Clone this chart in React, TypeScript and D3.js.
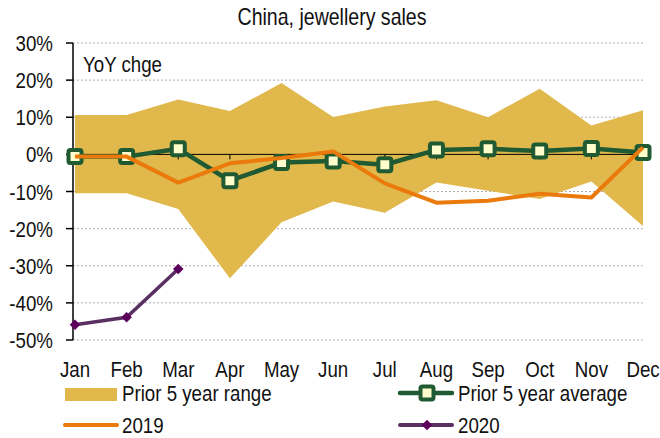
import * as d3 from 'd3';

const months = ['Jan', 'Feb', 'Mar', 'Apr', 'May', 'Jun', 'Jul', 'Aug', 'Sep', 'Oct', 'Nov', 'Dec'];
const rangeHigh = [10.6, 10.6, 14.8, 11.7, 19.2, 10.1, 12.9, 14.6, 10.0, 17.7, 7.8, 11.9];
const rangeLow = [-10.5, -10.5, -14.7, -33.4, -18.3, -12.7, -15.7, -7.6, -9.8, -12.0, -7.3, -19.3];
const avg5y = [-0.6, -0.6, 1.5, -7.1, -2.2, -1.8, -2.8, 1.2, 1.5, 0.9, 1.6, 0.5];
const y2019 = [-0.6, -0.6, -7.6, -2.4, -1.0, 0.8, -7.8, -13.0, -12.5, -10.6, -11.6, 1.9];
const y2020 = [-45.9, -43.9, -30.9];
const yTicks = [30, 20, 10, 0, -10, -20, -30, -40, -50];

const W = 660;
const H = 438;
const FONT = '"Liberation Sans", Arial, sans-serif';
const NARROW = 0.85;
const GOLD = '#E0B84C';
const GREEN = '#1F5A33';
const ORANGE = '#EA7A0B';
const PURPLE = '#5A2F62';
const DIAMOND = '#5C005C';

// narrow text: Arial Narrow is not installed, so squeeze Liberation Sans
function T({ x, y, size = 22, anchor = 'start', children }: { x: number; y: number; size?: number; anchor?: string; children: any }) {
  return (
    <text transform={`translate(${x},${y}) scale(${NARROW},1)`} textAnchor={anchor} fontSize={size} fill="#111">
      {children}
    </text>
  );
}

export default function App() {
  const x = d3.scalePoint<string>().domain(months).range([75, 643]);
  const y = d3.scaleLinear().domain([-50, 30]).range([340, 43]);

  const band = d3.area<number>()
    .x((_, i) => x(months[i])!)
    .y0((_, i) => y(rangeLow[i]))
    .y1(d => y(d));
  const line = d3.line<number>()
    .x((_, i) => x(months[i])!)
    .y(d => y(d));
  const diamond = d3.symbol(d3.symbolDiamond2, 70)() ?? '';

  return (
    <svg width={W} height={H} style={{ position: 'absolute', left: 0, top: 0 }} fontFamily={FONT}>
      <rect width={W} height={H} fill="#fff" />
      <T x={332} y={25} size={23} anchor="middle">China, jewellery sales</T>

      {/* gridlines */}
      {yTicks.filter(t => t !== 0).map(t => (
        <line key={t} x1={73} x2={643} y1={y(t)} y2={y(t)} stroke="#b0b0b0" strokeWidth={1} strokeDasharray="2,2" />
      ))}

      <path d={band(rangeHigh) ?? ''} fill={GOLD} />

      {/* zero line with category ticks */}
      <line x1={73} x2={643} y1={y(0)} y2={y(0)} stroke="#000" strokeWidth={1} />
      {months.map(m => (
        <line key={m} x1={x(m)!} x2={x(m)!} y1={y(0)} y2={y(0) + 5} stroke="#000" />
      ))}

      {/* y axis */}
      <line x1={73} x2={73} y1={y(30)} y2={y(-50)} stroke="#000" strokeWidth={1.5} />
      {yTicks.map(t => (
        <g key={t}>
          <line x1={66} x2={73} y1={y(t)} y2={y(t)} stroke="#000" strokeWidth={1.5} />
          <T x={53} y={y(t) + 8} anchor="end">{t}%</T>
        </g>
      ))}
      <T x={83} y={72}>YoY chge</T>

      {/* prior 5 year average */}
      <path d={line(avg5y) ?? ''} fill="none" stroke={GREEN} strokeWidth={4.5} strokeLinejoin="round" />
      {avg5y.map((v, i) => (
        <rect key={i} x={x(months[i])! - 6.5} y={y(v) - 6.5} width={13} height={13} rx={2}
          fill="#FFFDCC" stroke={GREEN} strokeWidth={4} />
      ))}

      {/* 2019, drawn over the average */}
      <path d={line(y2019) ?? ''} fill="none" stroke={ORANGE} strokeWidth={4} strokeLinejoin="round" />

      {/* 2020 */}
      <path d={line(y2020) ?? ''} fill="none" stroke={PURPLE} strokeWidth={3.5} />
      {y2020.map((v, i) => (
        <path key={i} d={diamond} transform={`translate(${x(months[i])},${y(v)})`} fill={DIAMOND} />
      ))}

      {/* month labels */}
      {months.map(m => (
        <T key={m} x={x(m)!} y={377} anchor="middle">{m}</T>
      ))}

      {/* legend */}
      <rect x={65} y={388} width={52} height={13} fill={GOLD} />
      <T x={122} y={401}>Prior 5 year range</T>

      <line x1={400} x2={452} y1={393} y2={393} stroke={GREEN} strokeWidth={4.5} strokeLinecap="round" />
      <rect x={420.5} y={386.5} width={13} height={13} rx={2} fill="#FFFDCC" stroke={GREEN} strokeWidth={4} />
      <T x={458} y={401}>Prior 5 year average</T>

      <line x1={65} x2={117} y1={425} y2={425} stroke={ORANGE} strokeWidth={4} strokeLinecap="round" />
      <T x={122} y={433}>2019</T>

      <line x1={400} x2={452} y1={425} y2={425} stroke={PURPLE} strokeWidth={4} strokeLinecap="round" />
      <path d={diamond} transform="translate(427,425)" fill={DIAMOND} />
      <T x={458} y={433}>2020</T>
    </svg>
  );
}
